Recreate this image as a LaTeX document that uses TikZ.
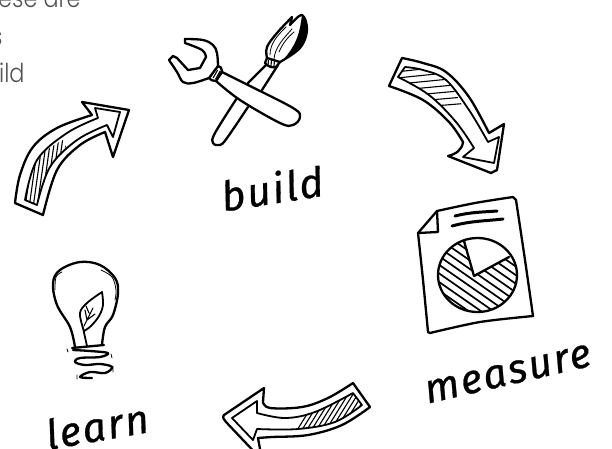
\documentclass[tikz,border=0pt]{standalone}
\usepackage{fontspec}
\setmainfont{Poppins Light}[FakeStretch=0.86]
\newfontfamily\handfont[ItalicFont=* Italic,ItalicFeatures={FakeBold=0.7,LetterSpace=5}]{Fira Sans}
\tikzset{
  ink/.style={line width=2.3pt,line join=round,line cap=round,draw=black},
  inner ink/.style={line width=1.8pt,line join=round,line cap=round,draw=black},
  thin ink/.style={line width=0.8pt,line cap=round,draw=black},
  hatchline/.style={line width=1.1pt,draw=black},
  bold stroke/.style={line width=3pt,line cap=round,draw=black},
  hand/.style={font=\handfont\itshape\fontsize{41}{41}\selectfont,text=black,inner sep=0pt},
  intro/.style={font=\fontsize{26}{26}\selectfont,text=black!68,inner sep=0pt,anchor=base west}
}
\begin{document}
\begin{tikzpicture}[x=1pt,y=-1pt]
\useasboundingbox (0,0) rectangle (612,448);
\clip (0,0) rectangle (612,448);
% intro text
\node[intro] (t1) at (-2,7) {ese are};
\node[intro] (t2) at (-9,45) {s};
\node[intro] (t3) at (-1,82) {ild};
% left arrow
\draw[ink] (15,203) plot[smooth,tension=.6] coordinates {(15,203) (20,175) (33,147) (57,128) (92,115)}
  -- (82,102) -- (129,110) -- (113,157) -- (105,132)
  -- plot[smooth,tension=.6] coordinates {(105,132) (80,145) (57,170) (43,215)} -- cycle;
\draw[inner ink] (25,200) -- (37,205)
  -- plot[smooth,tension=.6] coordinates {(37,205) (50,167) (77,140) (107,125)}
  -- (113,137) -- (120,112) -- (95,108) -- (98,118)
  -- plot[smooth,tension=.6] coordinates {(98,118) (67,133) (37,160) (25,200)};
\begin{scope}
\clip plot[smooth,tension=.6] coordinates {(37,205) (50,167) (66,147)} -- (63,140) -- plot[smooth,tension=.6] coordinates {(63,140) (37,160) (25,200)} -- cycle;
\foreach \k in {0,...,13} \draw[hatchline] ({20+4*\k},215) -- ({32+4*\k},130);
\end{scope}
% right arrow
\draw[ink] (402,58) -- (389,86)
  -- plot[smooth,tension=.6] coordinates {(389,86) (423,100) (449,122) (463,142)}
  .. controls (462,150) and (456,154) .. (448,156) -- (491,173) -- (497,170) -- (504,124) -- (489,133)
  -- plot[smooth,tension=.6] coordinates {(489,133) (469,97) (446,72) (423,63) (402,58)};
\draw[inner ink] (405,67) -- (398,77)
  -- plot[smooth,tension=.6] coordinates {(398,77) (429,95) (456,122) (474,148)}
  -- (463,157) -- (494,163) -- (499,137) -- (488,142)
  -- plot[smooth,tension=.6] coordinates {(488,142) (469,110) (446,80) (423,70) (405,67)};
\begin{scope}
\clip (405,67) -- (398,77) -- plot[smooth,tension=.6] coordinates {(398,77) (429,95) (446,110)} -- (463,107) -- plot[smooth,tension=.6] coordinates {(463,107) (446,80) (423,70) (405,67)} -- cycle;
\foreach \k in {0,...,7} \draw[hatchline] (395,{72+6.2*\k}) -- (470,{64+6.5*\k});
\end{scope}
% bottom arrow
\draw[ink] (224,415) .. controls (222,417) and (224,420) .. (226,422) -- (262,460) -- (258,438)
  -- plot[smooth,tension=.6] coordinates {(258,438) (272,437) (308,435) (342,425) (370,407)}
  -- (353,383)
  -- plot[smooth,tension=.6] coordinates {(353,383) (328,398) (302,407) (270,408) (263,402)}
  -- (264,388) -- cycle;
\draw[inner ink] (232,418) -- (257,401) -- (257,413)
  -- plot[smooth,tension=.6] coordinates {(257,413) (285,418) (315,412) (353,393)}
  -- (362,405)
  -- plot[smooth,tension=.6] coordinates {(362,405) (335,422) (298,429) (257,429)}
  -- (253,440) -- cycle;
\begin{scope}
\clip (353,393) -- (362,405) -- plot[smooth,tension=.6] coordinates {(362,405) (335,422) (298,429)} -- (298,416) -- plot[smooth,tension=.6] coordinates {(298,416) (315,412) (353,393)} -- cycle;
\foreach \k in {0,...,15} \draw[hatchline] ({294+4.8*\k},435) -- ({322+4.8*\k},390);
\end{scope}
% wrench and brush
\draw[ink] (248,83) -- (268,63) (262,90) -- (278,65);
\draw[ink] (237,98) -- plot[smooth,tension=.6] coordinates {(237,98) (215,133) (213,143) (220,145) (227,138) (248,107)};
% ferrule
\draw[ink,fill=white] (267,58) -- (265,63) .. controls (268,67) and (273,68) .. (276,67) -- (280,62);
\foreach \k in {0,1,2} \draw[hatchline] ({268.5+3*\k},60) -- ({268+3*\k},66);
% bristles
\draw[ink,fill=white] (267,58) -- plot[smooth,tension=.6] coordinates {(267,58) (267,47) (277,33) (292,17)}
  -- plot[smooth,tension=.6] coordinates {(292,17) (290,25)}
  -- plot[smooth,tension=.6] coordinates {(290,25) (302,15) (307,30) (300,48) (280,62)} -- cycle;
\fill (302,15) .. controls (310,28) and (309,46) .. (282,61) .. controls (298,44) and (300,30) .. (302,15);
\draw[thin ink] (270,55) .. controls (270,43) and (278,35) .. (286,27);
\draw[thin ink] (274,59) .. controls (275,47) and (284,38) .. (292,29);
\draw[thin ink] (279,52) .. controls (283,43) and (287,38) .. (294,32);
% wrench
\draw[ink,fill=white] (218,66) -- plot[smooth,tension=.6] coordinates {(218,66) (217,53) (213,45) (203,40) (185,39)}
  -- (185,43) -- plot[smooth,tension=.6] coordinates {(185,43) (202,50) (206,57)}
  -- (200,68) -- (188,70) -- (177,58) -- (173,56) -- (169,60)
  -- plot[smooth,tension=.6] coordinates {(169,60) (177,72) (183,82) (193,83) (209,78)};
\draw[ink,fill=white] (222,72) -- plot[smooth,tension=.6] coordinates {(222,72) (248,85) (293,108) (300,117) (293,125) (280,123) (240,100) (216,81)} -- cycle;
\draw[ink,fill=white] (218,66) .. controls (220,66) and (222,68) .. (222,71) -- (216,81) .. controls (213,81) and (210,80) .. (209,78) -- cycle;
\foreach \k in {0,1,2} \draw[hatchline] ({215+2.6*\k},{69+1*\k}) -- ({210.5+2.6*\k},{77+1*\k});
% document
\draw[ink] (418,233) -- (437,211) -- plot[smooth,tension=.5] coordinates {(437,211) (475,203) (513,197)}
  -- (516,200) -- plot[smooth,tension=.5] coordinates {(516,200) (525,260) (533,316)}
  -- plot[smooth,tension=.5] coordinates {(533,316) (480,322) (430,333)} -- (428,332)
  -- plot[smooth,tension=.5] coordinates {(428,332) (423,280) (418,233)};
\draw[ink] (437,211) -- (438,232) -- (418,233);
\draw[bold stroke] (455,216) .. controls (470,212) and (485,212) .. (497,211);
\draw[bold stroke] (452,226) .. controls (470,221) and (485,221) .. (503,219);
% pie
\begin{scope}
\clip (477.5,275) ellipse [x radius=39.5,y radius=37];
\foreach \k in {-6,...,6} \draw[hatchline,line width=1.7pt] (425,{255+8.6*\k}) -- (530,{328+8.6*\k});
\fill[white] (474,276) -- (464,235) -- (515,235) -- (509,257) -- cycle;
\end{scope}
\draw[ink] (477.5,275) ellipse [x radius=39.5,y radius=37];
\draw[ink] (464,241) -- (474,276) -- (509,257);
% bulb
\draw[ink] (75,347) -- plot[smooth,tension=.6] coordinates {(75,347) (70,327) (57,305) (53,283) (60,270) (80,262) (100,265) (115,278) (118,293) (113,315) (105,327) (102,345)};
\draw[ink] (72,348) -- (104,345);
\draw[ink] plot[smooth,tension=.6] coordinates {(73,350) (90,351) (108,353) (100,357) (80,358) (75,362) (85,365) (100,364) (112,367) (105,373) (90,372) (80,377) (92,378)};
\draw[thin ink] plot[smooth,tension=.6] coordinates {(101,270) (112,277) (116,290) (115,300)};
\draw[thin ink] plot[smooth,tension=.6] coordinates {(55,290) (56,277) (62,272)};
\draw[thin ink] (67,349) -- (68,352) (111,354) -- (112,358) (113,366) -- (113,372) (77,375) -- (77,379);
% leaf
\draw[inner ink] (87,346) -- (83,328) -- plot[smooth,tension=.6] coordinates {(83,328) (80,313) (87,303) (102,292)}
  -- plot[smooth,tension=.6] coordinates {(102,292) (103,305) (99,316) (91,326) (84,331)};
\draw[thin ink,line width=1.1pt] (84,326) -- (93,308) (87,320) -- (85,310) (89,313) -- (86,306) (87,320) -- (95,314);
% labels
\node[hand,rotate=9] (build) at (272,188) {build};
\node[hand,rotate=10] (learn) at (97,426) {learn};
\node[hand,rotate=13] (measure) at (508,374) {measure};
\end{tikzpicture}
\end{document}
